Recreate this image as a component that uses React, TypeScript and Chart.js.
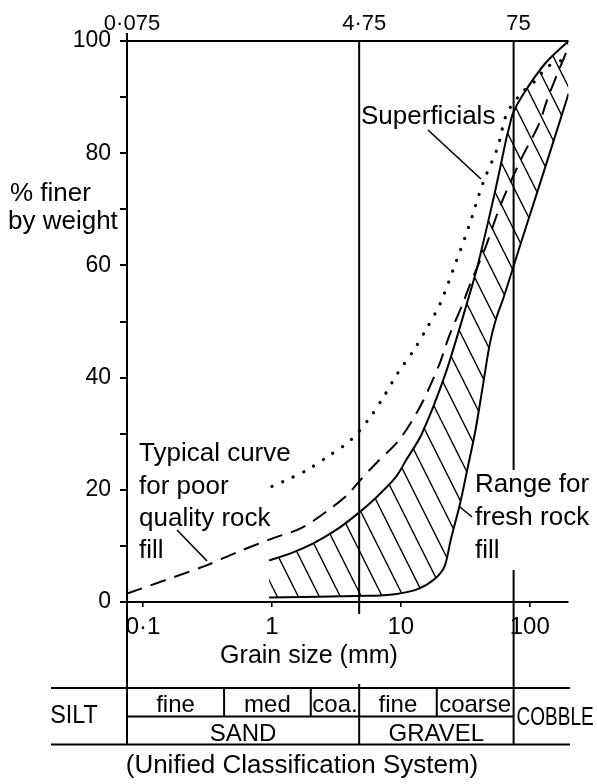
import React, { useEffect, useRef } from 'react';
import { Chart, registerables } from 'chart.js';

Chart.register(...registerables);

const FONT = "'Liberation Sans', Arial, sans-serif";

// Range for fresh rock fill: upper (left) boundary
const freshUpperSize = [0.95, 1.41, 2.11, 3.17, 4.43, 6.41, 9.1, 11.0, 14.5, 22.2, 33.8, 39.3, 52.8, 62.3, 66.6, 69.6, 74.1, 87.3, 130.7, 200];
const freshUpperPct = [7.4, 8.7, 10.5, 12.9, 15.4, 18.6, 22.2, 25.3, 29.9, 40.7, 54.5, 59.8, 72.3, 80.0, 83.1, 84.8, 87.1, 90.2, 95.9, 100];

// Range for fresh rock fill: lower (right) boundary
const freshLowerSize = [0.95, 5.54, 8.98, 13.5, 18.3, 21.8, 24.4, 28.8, 32.3, 38.0, 43.2, 49.1, 54.7, 63.2, 84.1, 112, 149, 200];
const freshLowerPct = [0.8, 1.1, 1.4, 2.3, 4.1, 6.3, 11.1, 17.5, 22.9, 30.7, 38.4, 46.1, 50.4, 54.5, 63.5, 72.4, 81.3, 90.6];

// Typical curve for poor quality rock fill (dashed)
const poorSize = [0.075, 0.3, 0.54, 1.0, 1.7, 2.9, 3.85, 4.75, 6.6, 9.4, 12, 15, 20, 23.7, 30, 35, 45, 60, 86, 117, 139, 200];
const poorPct = [1.5, 6.4, 8.9, 11.3, 13.2, 16.8, 19.1, 21.5, 25, 28.5, 32, 36, 42.5, 47.4, 53, 57, 63, 71, 79, 85, 90, 99];

// Superficials (dotted)
const superSize = [1.0, 1.23, 1.83, 2.7, 4.06, 5.77, 7.5, 9.4, 12.7, 15.9, 20.2, 26.6, 33.8, 43.6, 56.3, 66.6, 88, 113, 137, 200];
const superPct = [20.6, 21.5, 23.4, 25.9, 28.8, 32.9, 36.9, 40.7, 45, 48.8, 53.2, 60.4, 67, 74.8, 81, 87.1, 90.9, 93.1, 95.4, 97];

// Axes
const xMin = 0.075;
const xMax = 200;
const bottomTicks = [0.1, 1, 10, 100];
const bottomTickLabels = ['0·1', '1', '10', '100'];
const topTicks = [0.075, 4.75, 75];
const topTickLabels = ['0·075', '4·75', '75'];
const yTicks = [0, 10, 20, 30, 40, 50, 60, 70, 80, 90, 100];
const yLabelled = [0, 20, 40, 60, 80, 100];

// Unified Classification System (mm)
const subClassFrom = [0.075, 0.425, 2, 4.75, 19];
const subClassTo = [0.425, 2, 4.75, 19, 75];
const subClassNames = ['fine', 'med', 'coa.', 'fine', 'coarse'];
const mainClassFrom = [0.075, 4.75];
const mainClassTo = [4.75, 75];
const mainClassNames = ['SAND', 'GRAVEL'];

const pts = (xs: number[], ys: number[]) => xs.map((x, i) => ({ x, y: ys[i] }));

export default function App() {
  const ref = useRef<HTMLCanvasElement>(null);

  useEffect(() => {
    const canvas = ref.current!;
    const ctx = canvas.getContext('2d')!;

    const tile = document.createElement('canvas');
    const tw = 21, th = 42;
    tile.width = tw;
    tile.height = th;
    const tg = tile.getContext('2d')!;
    tg.strokeStyle = '#000';
    tg.lineWidth = 1.4;
    tg.beginPath();
    for (const ox of [-tw, 0, tw]) {
      tg.moveTo(ox, 0);
      tg.lineTo(ox + tw, th);
    }
    tg.stroke();
    const hatch = ctx.createPattern(tile, 'repeat')!;

    const figurePlugin = {
      id: 'figure',
      afterDraw(chart: any) {
        const { ctx: c, chartArea: a, scales } = chart;
        const xs = scales.x;
        const ys = scales.y;
        const px = (v: number) => xs.getPixelForValue(v);
        c.save();
        c.strokeStyle = '#000';
        c.fillStyle = '#000';
        const line = (x1: number, y1: number, x2: number, y2: number, w = 2) => {
          c.lineWidth = w;
          c.beginPath();
          c.moveTo(x1, y1);
          c.lineTo(x2, y2);
          c.stroke();
        };
        const tTop = 688, tMid = 716.5, tBot = 744.5;
        const y0 = ys.getPixelForValue(0);
        const y100 = ys.getPixelForValue(100);
        // axes frame
        line(a.left, a.top - 8, a.left, tBot);
        line(a.left, y100, a.right, y100);
        line(a.left - 7, y0, a.right, y0);
        const x475 = px(4.75);
        const x75 = px(75);
        line(x475, a.top, x475, 614);
        line(x475, 684, x475, tBot);
        line(x75, a.top, x75, 470);
        line(x75, 570, x75, tBot);
        // classification table
        line(51, tTop, 570, tTop);
        line(51, tBot, 570, tBot);
        line(a.left, tMid, x75, tMid);
        for (let i = 1; i < subClassFrom.length; i++) {
          if (subClassFrom[i] === 4.75) continue;
          const xx = px(subClassFrom[i]);
          line(xx, tTop, xx, tMid);
        }
        c.font = `24px ${FONT}`;
        c.textAlign = 'center';
        c.textBaseline = 'alphabetic';
        for (let i = 0; i < subClassNames.length; i++) {
          const cx = (px(subClassFrom[i]) + px(subClassTo[i])) / 2;
          c.fillText(subClassNames[i], cx, tMid - 5);
        }
        for (let i = 0; i < mainClassNames.length; i++) {
          const cx = (px(mainClassFrom[i]) + px(mainClassTo[i])) / 2;
          c.fillText(mainClassNames[i], cx, tBot - 4);
        }
        c.textBaseline = 'middle';
        c.font = `26px ${FONT}`;
        c.save();
        c.translate(74, (tTop + tBot) / 2);
        c.scale(0.9, 1);
        c.fillText('SILT', 0, 0);
        c.restore();
        c.save();
        const cw = c.measureText('COBBLE').width;
        c.translate(x75 + 3, (tTop + tBot) / 2 + 2);
        c.scale(77 / cw, 1);
        c.textAlign = 'left';
        c.fillText('COBBLE', 0, 0);
        c.restore();
        // titles
        c.font = `25px ${FONT}`;
        c.textAlign = 'center';
        c.fillText('Grain size (mm)', 309, 656);
        c.font = `26px ${FONT}`;
        c.fillText('(Unified Classification System)', 302, 766);
        // annotations
        c.textAlign = 'left';
        c.textBaseline = 'alphabetic';
        c.fillText('% finer', 10, 201);
        c.fillText('by weight', 8, 229);
        c.fillText('Superficials', 361, 124);
        c.fillText('Typical curve', 139, 461);
        c.fillText('for poor', 139, 494);
        c.fillText('quality rock', 139, 526);
        c.fillText('fill', 139, 558);
        c.fillText('Range for', 475, 492);
        c.fillText('fresh rock', 475, 525);
        c.fillText('fill', 475, 558);
        // pointers
        line(428, 130, 481, 179, 1.6);
        line(177, 530, 207, 561, 1.6);
        line(460, 507, 472, 517, 1.6);
        c.restore();
      },
    };

    const common = {
      borderColor: '#000',
      pointRadius: 0,
      cubicInterpolationMode: 'default',
      tension: 0.3,
    };

    const chart = new Chart(canvas, {
      type: 'line',
      data: {
        datasets: [
          {
            ...common,
            label: 'Fresh rock fill (upper)',
            data: pts(freshUpperSize, freshUpperPct),
            borderWidth: 2,
            fill: false,
          },
          {
            ...common,
            label: 'Fresh rock fill (lower)',
            data: pts(freshLowerSize, freshLowerPct),
            borderWidth: 2,
            backgroundColor: hatch,
            fill: { target: 0, above: hatch, below: hatch },
          },
          {
            ...common,
            label: 'Poor quality rock fill',
            data: pts(poorSize, poorPct),
            borderWidth: 2,
            borderDash: [16, 9],
            fill: false,
          },
          {
            ...common,
            label: 'Superficials',
            data: pts(superSize, superPct),
            borderWidth: 3.2,
            borderDash: [0.1, 11.5],
            borderCapStyle: 'round',
            fill: false,
          },
        ],
      },
      options: {
        responsive: false,
        devicePixelRatio: 1,
        animation: false,
        layout: { padding: { left: 0, right: 28.5, top: 0, bottom: 0 } },
        plugins: { legend: { display: false }, tooltip: { enabled: false } },
        scales: {
          x: {
            type: 'logarithmic',
            position: 'bottom',
            min: xMin,
            max: xMax,
            afterBuildTicks: (s: any) => {
              s.ticks = bottomTicks.map((v) => ({ value: v }));
            },
            afterFit: (s: any) => {
              s.height = 182;
            },
            ticks: {
              autoSkip: false,
              maxRotation: 0,
              padding: 6,
              color: '#000',
              font: { family: FONT, size: 24 },
              callback: (v: any) => bottomTickLabels[bottomTicks.indexOf(Number(v))] ?? '',
            },
            grid: { display: true, drawOnChartArea: false, drawTicks: true, tickLength: 5, color: '#000', lineWidth: 1.6 },
            border: { display: false },
          },
          x2: {
            type: 'logarithmic',
            position: 'top',
            min: xMin,
            max: xMax,
            afterBuildTicks: (s: any) => {
              s.ticks = topTicks.map((v) => ({ value: v }));
            },
            afterFit: (s: any) => {
              s.height = 41;
            },
            ticks: {
              autoSkip: false,
              maxRotation: 0,
              padding: 4,
              labelOffset: 5,
              color: '#000',
              font: { family: FONT, size: 22 },
              callback: (v: any) => topTickLabels[topTicks.indexOf(Number(v))] ?? '',
            },
            grid: { display: false, drawTicks: false },
            border: { display: false },
          },
          y: {
            type: 'linear',
            min: 0,
            max: 100,
            afterBuildTicks: (s: any) => {
              s.ticks = yTicks.map((v) => ({ value: v }));
            },
            afterFit: (s: any) => {
              s.width = 127;
            },
            ticks: {
              autoSkip: false,
              padding: 9,
              color: '#000',
              font: { family: FONT, size: 23 },
              callback: (v: any) => (yLabelled.includes(Number(v)) ? String(v) : ''),
            },
            grid: { display: true, drawOnChartArea: false, drawTicks: true, tickLength: 7, color: '#000', lineWidth: 2 },
            border: { display: false },
          },
        },
      } as any,
      plugins: [figurePlugin],
    });

    return () => chart.destroy();
  }, []);

  return (
    <div style={{ position: 'absolute', left: 0, top: 0, width: 597, height: 784, background: '#fff' }}>
      <canvas ref={ref} width={597} height={784} style={{ display: 'block', width: 597, height: 784 }} />
    </div>
  );
}
